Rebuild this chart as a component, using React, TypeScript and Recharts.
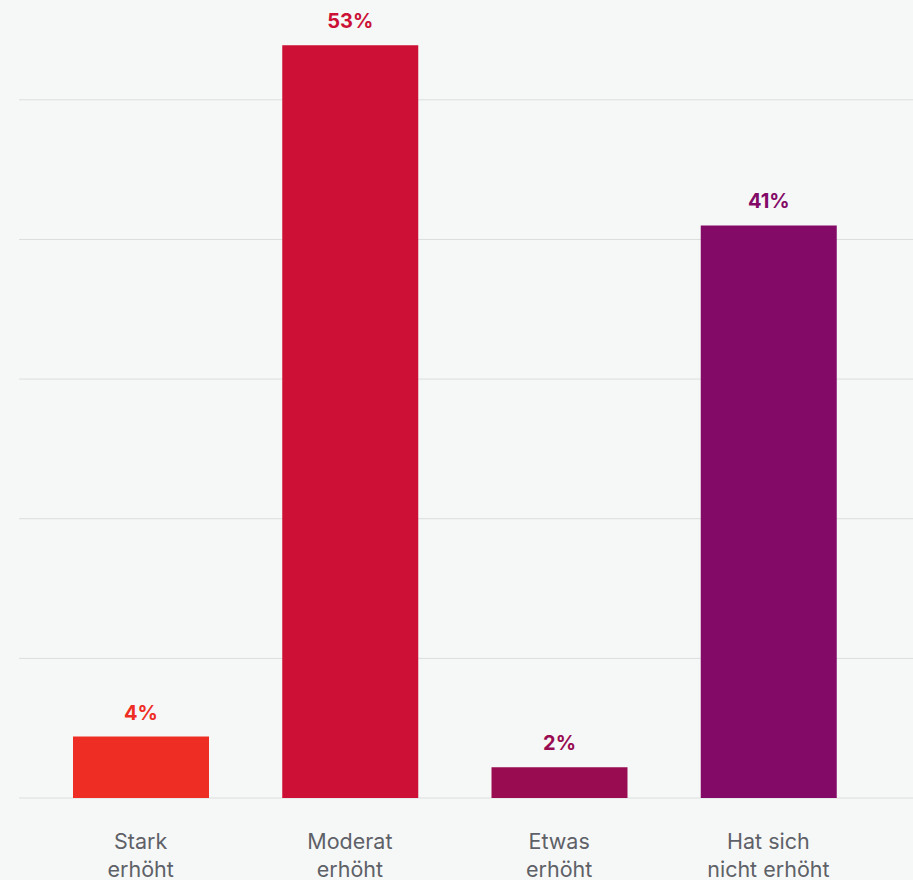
import React from "react";
import { BarChart, Bar, XAxis, YAxis, CartesianGrid, Cell, LabelList } from "recharts";

const categories = ["Stark erhöht", "Moderat erhöht", "Etwas erhöht", "Hat sich nicht erhöht"];
const tickLines = [
  ["Stark", "erhöht"],
  ["Moderat", "erhöht"],
  ["Etwas", "erhöht"],
  ["Hat sich", "nicht erhöht"],
];
const values = [4.4, 53.9, 2.2, 41.0];
const valueLabels = ["4%", "53%", "2%", "41%"];
const barColors = ["#EE2E24", "#CC1036", "#990C51", "#830A67"];
const yTicks = [0, 10, 20, 30, 40, 50];

const data = categories.map((c, i) => ({ name: c, value: values[i], label: valueLabels[i], idx: i }));

const FONT = "Inter, 'Noto Sans', sans-serif";

const XTick = (props: any) => {
  const { x, y, payload } = props;
  const lines = tickLines[payload.index] || [payload.value];
  return (
    <text x={x} y={y} textAnchor="middle" fill="#5E6167" fontFamily={FONT} fontSize={21.5}>
      {lines.map((l: string, i: number) => (
        <tspan key={i} x={x} dy={i === 0 ? 51 : 28}>
          {l}
        </tspan>
      ))}
    </text>
  );
};

const EmptyTick = () => <g />;

const TopLabel = (props: any) => {
  const { x, y, width, index } = props;
  return (
    <text
      x={x + width / 2}
      y={y - 17}
      textAnchor="middle"
      fill={barColors[index]}
      fontFamily={FONT}
      fontSize={20}
      fontWeight={700}
    >
      {valueLabels[index]}
    </text>
  );
};

const GridLine = (props: any) => {
  const { x1, y1, x2, y2, y } = props;
  if (typeof y === "number" && Math.abs(y1 - y) < 0.5) return <g />;
  return <line x1={x1} y1={y1} x2={x2} y2={y2} stroke="#DCDDDD" strokeWidth={1} fill="none" />;
};

export default function App() {
  return (
    <div style={{ position: "absolute", left: 0, top: 0, width: 913, height: 880, background: "#F6F8F8" }}>
      <BarChart width={913} height={880} data={data} margin={{ top: 30, right: 0, left: 19, bottom: 0 }}>
        <CartesianGrid vertical={false} stroke="#DCDDDD" strokeWidth={1} horizontal={(p: any) => <GridLine {...p} />} />
        <XAxis
          dataKey="name"
          height={82}
          axisLine={false}
          tickLine={false}
          tickSize={0}
          tickMargin={0}
          padding={{ left: 17, right: 40 }}
          interval={0}
          tick={<XTick />}
        />
        <YAxis
          width={0}
          type="number"
          domain={[0, 55]}
          ticks={yTicks}
          interval={0}
          axisLine={false}
          tickLine={false}
          tick={<EmptyTick />}
        />
        <Bar dataKey="value" barSize={136} isAnimationActive={false}>
          {data.map((d, i) => (
            <Cell key={i} fill={barColors[i]} />
          ))}
          <LabelList dataKey="label" content={<TopLabel />} />
        </Bar>
      </BarChart>
    </div>
  );
}
